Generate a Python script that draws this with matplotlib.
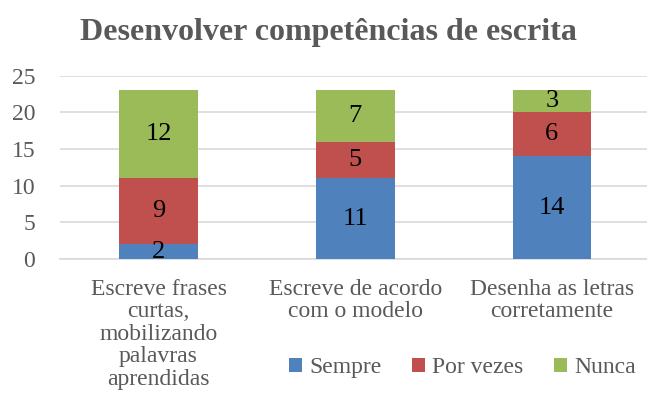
import matplotlib
matplotlib.use("Agg")
import matplotlib.pyplot as plt
import numpy as np

# dados do grafico
categorias = ["Escreve frases\ncurtas,\nmobilizando\npalavras\naprendidas",
              "Escreve de acordo\ncom o modelo",
              "Desenha as letras\ncorretamente"]
sempre = [2, 11, 14]
por_vezes = [9, 5, 6]
nunca = [12, 7, 3]
series = ["Sempre", "Por vezes", "Nunca"]
cores = ["#4f81bd", "#c0504d", "#9bbb59"]

plt.rcParams['font.family'] = ['Liberation Serif', 'DejaVu Serif']

fig = plt.figure(figsize=(6.47, 4.12), dpi=100)
ax = fig.add_axes([0.093, 0.371, 0.912, 0.445])

x = np.arange(len(categorias))
base = np.zeros(len(categorias))
for valores, nome, cor in zip([sempre, por_vezes, nunca], series, cores):
    barras = ax.bar(x, valores, 0.4, bottom=base, color=cor, label=nome, zorder=3)
    for xi, b, v in zip(x, base, valores):
        ax.text(xi, b + v / 2, str(v), ha='center', va='center', fontsize=19,
                color='black', zorder=4)
    base = base + np.array(valores)

ax.set_xlim(-0.5, 2.5)
ax.set_ylim(0, 25)
ax.set_yticks([0, 5, 10, 15, 20, 25])
ax.yaxis.grid(True, color='#d9d9d9', linewidth=1.2, zorder=0)
for s in ['top', 'right', 'left']:
    ax.spines[s].set_visible(False)
ax.spines['bottom'].set_color('#d9d9d9')
ax.spines['bottom'].set_linewidth(1.2)
ax.tick_params(axis='both', length=0, labelsize=17, colors='#595959')
ax.tick_params(axis='y', pad=18)
ax.set_xticks(x)
ax.set_xticklabels(categorias, fontsize=17, color='#595959', linespacing=1.1)
ax.tick_params(axis='x', pad=14)

fig.suptitle("Desenvolver competências de escrita", x=0.507, y=0.957,
             fontsize=23, fontweight='bold', color='#595959')

fig.legend(loc='center', bbox_to_anchor=(0.715, 0.107), ncol=3, frameon=False,
           fontsize=17, labelcolor='#595959', handlelength=0.55, handleheight=0.55,
           handletextpad=0.3, columnspacing=1.3)

fig.savefig("out.png", dpi=100)
